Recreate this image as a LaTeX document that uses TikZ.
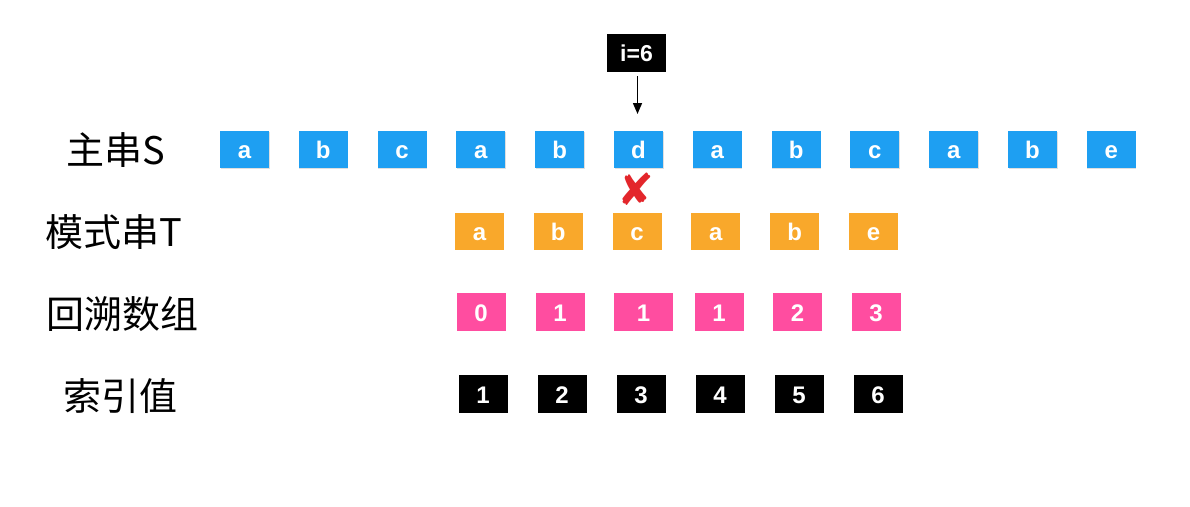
\documentclass[tikz,border=0pt]{standalone}
\usepackage{fontspec}
\setmainfont{Liberation Sans}
\newfontfamily\cjk{Noto Sans CJK SC}
\newfontfamily\dejavu{DejaVu Sans}
\usetikzlibrary{shadows,arrows.meta}
\definecolor{sblue}{HTML}{1E9FF2}
\definecolor{torange}{HTML}{F9A82B}
\definecolor{bpink}{HTML}{FF4DA0}
\definecolor{xred}{HTML}{E3262B}
\tikzset{
  cell/.style={minimum width=49pt, minimum height=37pt, inner sep=0pt, text=white,
    text height=18.6pt, text depth=0pt,
    font=\fontsize{24}{24}\selectfont\bfseries},
  scell/.style={cell, fill=sblue, drop shadow={opacity=0.25, shadow xshift=0.6pt, shadow yshift=-1.2pt}},
  tcell/.style={cell, fill=torange},
  pcell/.style={cell, fill=bpink, minimum height=38pt},
  icell/.style={cell, fill=black, minimum height=38pt},
  rowlabel/.style={font=\cjk\fontsize{38}{38}\selectfont, inner sep=0pt},
}
\begin{document}
\begin{tikzpicture}[x=1pt, y=-1pt]
\useasboundingbox[fill=white] (0,0) rectangle (1190,506);
% labels
\node[rowlabel] (lS) at (116,150) {主串S};
\node[rowlabel] (lT) at (114,232) {模式串T};
\node[rowlabel] (lN) at (122,314) {回溯数组};
\node[rowlabel] (lI) at (120,396) {索引值};
% main string S
\foreach \c [count=\k] in {a,b,c,a,b,d,a,b,c,a,b,e} {
  \node[scell] (s\k) at ({244.5+78.8*(\k-1)},149) {\c};
}
% pattern T
\foreach \c [count=\k] in {a,b,c,a,b,e} {
  \node[tcell] (t\k) at ({479.5+78.8*(\k-1)},231) {\c};
}
% next array
\node[pcell] (p1) at (481,312) {0};
\node[pcell] (p2) at (560,312) {1};
\node[pcell, minimum width=59pt] (p3) at (643.5,312) {1};
\node[pcell] (p4) at (719,312) {1};
\node[pcell] (p5) at (797.5,312) {2};
\node[pcell] (p6) at (876,312) {3};
% index
\foreach \c [count=\k] in {1,2,3,4,5,6} {
  \node[icell] (n\k) at ({483+79*(\k-1)},394) {\c};
}
% pointer i=6
\node[cell, fill=black, minimum width=59pt, minimum height=38pt, text height=17.5pt, font=\fontsize{23}{23}\selectfont\bfseries] (iv) at (636.5,53) {i=6};
\coordinate (itip) at (637.5,114);
\draw[-{Stealth[length=11pt,width=9pt,inset=0pt]}, line width=1.5pt] (iv.south -| itip) ++(0,4) -- (itip);
% mismatch mark
\node[text=xred, font=\dejavu\fontsize{44}{44}\selectfont, inner sep=0pt] (x) at (636,189) {✘};
\end{tikzpicture}
\end{document}
